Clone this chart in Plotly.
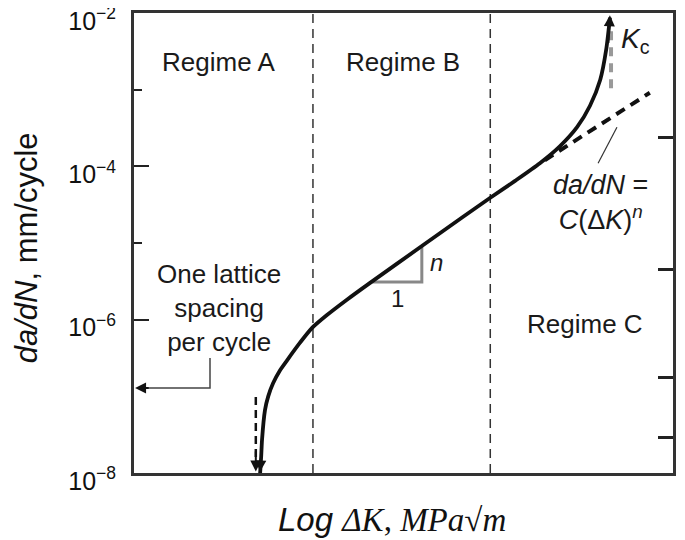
import plotly.graph_objects as go

# crack growth curve: x is log dK (arbitrary units), y is exponent of da/dN
curve_x = [2.34, 2.36, 2.375, 2.43, 2.49, 2.58, 2.71, 2.84, 3.08, 3.30, 3.58, 3.95, 4.38, 5.36,
           6.10, 6.61, 7.07, 7.53, 7.90, 8.22, 8.46, 8.65, 8.76, 8.83]
curve_exp = [-8.0, -7.78, -7.57, -7.18, -7.00, -6.83, -6.66, -6.53, -6.30, -6.11, -5.94, -5.74,
             -5.52, -5.03, -4.66, -4.41, -4.19, -3.96, -3.74, -3.49, -3.21, -2.87, -2.48, -2.06]

paris_x = [7.62, 9.57]
paris_exp = [-3.92, -3.04]

kc_x = [8.85, 8.85]
kc_exp = [-2.98, -2.18]

regime_bounds = [3.32, 6.61]

thresh_x = [2.26, 2.26]
thresh_exp = [-7.01, -7.80]

tri_x = [4.42, 5.34, 5.34]
tri_exp = [-5.51, -5.51, -5.03]

lattice_x = [1.41, 1.41, 0.15]
lattice_exp = [-6.50, -6.89, -6.89]

leader_x = [8.96, 8.61]
leader_exp = [-3.49, -3.96]

left_major = [-8, -6, -4, -2]
left_minor = [-5, -3]
right_ticks = [-3.63, -5.35, -6.76, -7.54]

ylo, yhi = -8, -2

def v(e):
    return [10 ** k for k in e]

fig = go.Figure()

for xb in regime_bounds:
    fig.add_trace(go.Scatter(x=[xb, xb], y=[10 ** ylo, 10 ** yhi], mode="lines",
                             line=dict(color="#333", width=1.5, dash="9px,6px")))

fig.add_trace(go.Scatter(x=tri_x, y=v(tri_exp), mode="lines",
                         line=dict(color="#888", width=3)))
fig.add_trace(go.Scatter(x=paris_x, y=v(paris_exp), mode="lines",
                         line=dict(color="#111", width=4, dash="10px,7px")))
fig.add_trace(go.Scatter(x=kc_x, y=v(kc_exp), mode="lines",
                         line=dict(color="#999", width=4, dash="9px,7px")))
fig.add_trace(go.Scatter(x=thresh_x, y=v(thresh_exp), mode="lines",
                         line=dict(color="#111", width=2.5, dash="8px,5px")))
fig.add_trace(go.Scatter(x=lattice_x, y=v(lattice_exp), mode="lines",
                         line=dict(color="#444", width=1.5)))
fig.add_trace(go.Scatter(x=leader_x, y=v(leader_exp), mode="lines",
                         line=dict(color="#333", width=1.2)))
fig.add_trace(go.Scatter(x=curve_x, y=v(curve_exp), mode="lines",
                         line=dict(color="#111", width=3.8, shape="spline", smoothing=0.7)))
fig.add_trace(go.Scatter(x=[0], y=[1e-5], yaxis="y2", mode="markers",
                         marker=dict(opacity=0), hoverinfo="skip"))

# arrowheads
arrows = [
    (curve_x[-1], curve_exp[-1] + 0.03, curve_x[-1] - 0.03, curve_exp[-1] - 0.35),
    (curve_x[0], curve_exp[0] + 0.02, curve_x[0] + 0.03, curve_exp[0] + 0.35),
    (thresh_x[0], -7.98, thresh_x[0], -7.7),
    (0.02, lattice_exp[-1], 0.3, lattice_exp[-1]),
]
for x, y, ax, ay in arrows:
    fig.add_annotation(x=x, y=y, ax=ax, ay=ay, xref="x", yref="y", axref="x", ayref="y",
                       text="", showarrow=True, arrowhead=2, arrowsize=1.1,
                       arrowwidth=2, arrowcolor="#111")

sans = "Liberation Sans, Arial, sans-serif"
labels = [
    (1.56, -2.64, "Regime A", 26),
    (4.99, -2.64, "Regime B", 26),
    (8.37, -6.06, "Regime C", 26),
    (1.58, -5.85, "One lattice<br>spacing<br>per cycle", 26),
    (4.88, -5.72, "1", 24),
    (5.62, -5.25, "<i>n</i>", 24),
    (9.30, -2.36, "<i>K</i><sub>c</sub>", 28),
    (8.65, -4.47, "<i>da/dN</i> =<br><i>C</i>(Δ<i>K</i>)<sup><i>n</i></sup>", 27),
]
for x, y, t, s in labels:
    fig.add_annotation(x=x, y=y, xref="x", yref="y", text=t, showarrow=False,
                       font=dict(family=sans, size=s, color="#1a1a1a"))

fig.add_annotation(x=-0.200, y=0.489, xref="paper", yref="paper", textangle=-90,
                   xanchor="center", yanchor="middle",
                   text="<i>da/dN</i>, mm/cycle", showarrow=False,
                   font=dict(family=sans, size=31, color="#111"))
fig.add_annotation(x=0.479, y=-0.102, xref="paper", yref="paper", showarrow=False,
                   xanchor="center", yanchor="middle",
                   text="<i>Log</i> <span style='font-family:Liberation Serif'><i>ΔK</i>, <i>MPa</i>√<i>m</i></span>",
                   font=dict(family=sans, size=33, color="#111"))

fig.update_layout(
    width=677, height=532,
    margin=dict(l=126, r=12, t=5, b=67, autoexpand=False),
    paper_bgcolor="white", plot_bgcolor="white",
    showlegend=False,
    xaxis=dict(range=[0, 10], showgrid=False, zeroline=False, showticklabels=False,
               ticks="", showline=True, linewidth=3, linecolor="#333", mirror=True,
               automargin=False),
    yaxis=dict(type="log", range=[ylo, yhi], showgrid=False, zeroline=False,
               showline=True, linewidth=3, linecolor="#333", mirror=True,
               automargin=False,
               tickvals=v(left_major),
               ticktext=["10<sup>−%d</sup>" % -k for k in left_major],
               ticks="inside", ticklen=15, tickwidth=2, tickcolor="#222",
               ticklabelstandoff=10, ticklabeloverflow="allow", ticklabelshift=8,
               tickfont=dict(family=sans, size=25, color="#111"),
               minor=dict(tickvals=v(left_minor), ticks="inside", ticklen=8,
                          tickwidth=2, tickcolor="#222", showgrid=False)),
    yaxis2=dict(type="log", range=[ylo, yhi], overlaying="y", side="right",
                showgrid=False, zeroline=False, showticklabels=False,
                showline=True, linewidth=3, linecolor="#333", automargin=False,
                tickvals=v(right_ticks), ticks="inside", ticklen=15, tickwidth=3,
                tickcolor="#222"),
)

fig.write_html("out.html")
